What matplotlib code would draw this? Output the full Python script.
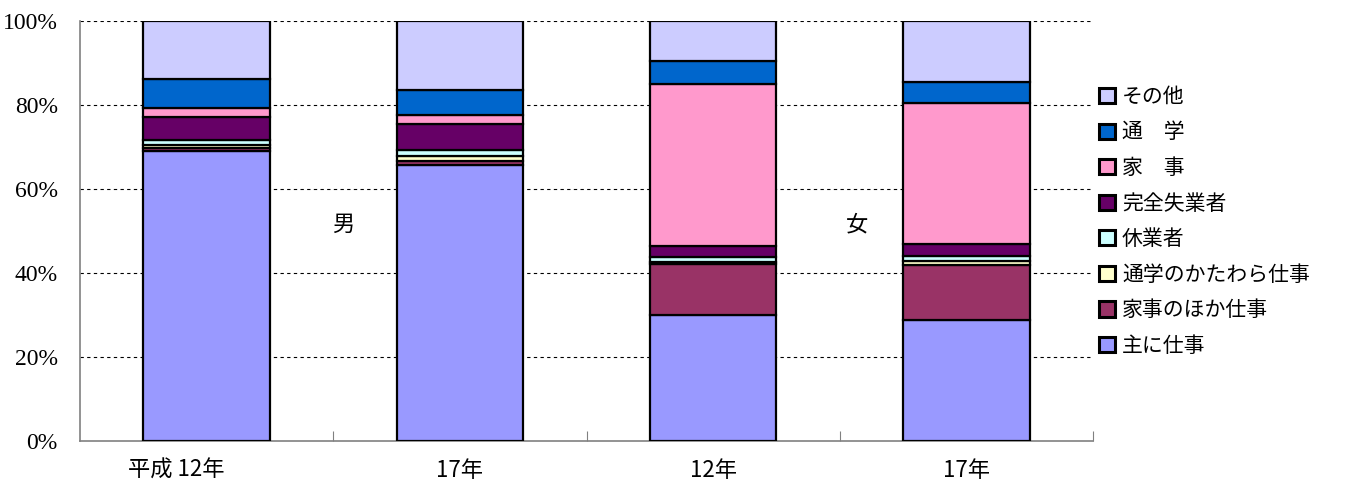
import numpy as np
import matplotlib
matplotlib.use('Agg')
from matplotlib import pyplot as plt
from matplotlib.transforms import ScaledTranslation

plt.rcParams['font.family'] = ['Noto Sans CJK JP', 'DejaVu Sans']

# 男: 平成12年, 17年 / 女: 12年, 17年  (構成比, %)
categories = ['平成 12年', '17年', '12年', '17年']
shuni_shigoto = [69.0, 65.7, 30.0, 28.8]     # 主に仕事
kaji_hoka = [0.8, 1.0, 12.1, 13.1]          # 家事のほか仕事
tsugaku_katawara = [0.6, 1.2, 0.5, 0.9]     # 通学のかたわら仕事
kyugyo = [1.2, 1.4, 1.2, 1.2]               # 休業者
shitsugyo = [5.5, 6.2, 2.6, 2.9]            # 完全失業者
kaji = [2.2, 2.1, 38.6, 33.6]               # 家事
tsugaku = [6.9, 6.0, 5.5, 5.0]              # 通学
sonota = [13.8, 16.4, 9.5, 14.5]            # その他

series = [
    ('主に仕事', shuni_shigoto, '#9999FF'),
    ('家事のほか仕事', kaji_hoka, '#993366'),
    ('通学のかたわら仕事', tsugaku_katawara, '#FFFFCC'),
    ('休業者', kyugyo, '#CCFFFF'),
    ('完全失業者', shitsugyo, '#660066'),
    ('家　事', kaji, '#FF99CC'),
    ('通　学', tsugaku, '#0066CC'),
    ('その他', sonota, '#CCCCFF'),
]

fig = plt.figure(figsize=(13.62, 4.88), dpi=100)
ax = fig.add_axes([80 / 1362, 47 / 488, 1013 / 1362, 420 / 488])

x = np.arange(len(categories))
bottom = np.zeros(len(categories))
handles = []
for name, vals, color in series:
    b = ax.bar(x, vals, 0.5, bottom=bottom, color=color, edgecolor='black',
               linewidth=1.6, label=name, zorder=3)
    handles.append(b)
    bottom += np.array(vals)

ax.set_xlim(-0.5, len(categories) - 0.5)
ax.set_ylim(0, 100)

# y axis: percent labels, dashed grid
yt = [0, 20, 40, 60, 80, 100]
ax.set_yticks(yt)
ax.set_yticklabels([f'{v}%' for v in yt], family='Liberation Serif', fontsize=17)
ax.tick_params(axis='y', length=0, pad=16)
for v in yt[1:]:
    ax.axhline(v, color='black', linestyle=(0, (3, 3)), linewidth=0.8, zorder=1)

# x axis: ticks between groups, labels under bars
ax.set_xticks(list(x + 0.5))
ax.set_xticklabels([''] * len(categories))
ax.tick_params(axis='x', which='major', direction='in', length=7, color='#808080')
ax.set_xticks(x, minor=True)
ax.set_xticklabels(categories, minor=True, fontsize=16)
ax.tick_params(axis='x', which='minor', length=0, pad=13)
first = ax.get_xticklabels(minor=True)[0]
first.set_transform(first.get_transform() + ScaledTranslation(-0.3, 0, fig.dpi_scale_trans))

for side in ['top', 'right']:
    ax.spines[side].set_visible(False)
for side in ['left', 'bottom']:
    ax.spines[side].set_color('#808080')
    ax.spines[side].set_linewidth(1.2)

ax.text(0.54, 51.5, '男', fontsize=16, ha='center', va='center')
ax.text(2.57, 51.5, '女', fontsize=16, ha='center', va='center')

leg = ax.legend(handles[::-1], [s[0] for s in series][::-1],
                loc='center left', bbox_to_anchor=(1.006, 0.523),
                frameon=False, fontsize=15, borderpad=0, borderaxespad=0,
                handlelength=0.75, handleheight=0.75, handletextpad=0.35,
                labelspacing=0.65)
for h in leg.legend_handles:
    h.set_linewidth(2.2)

fig.savefig('out.png', dpi=100)
